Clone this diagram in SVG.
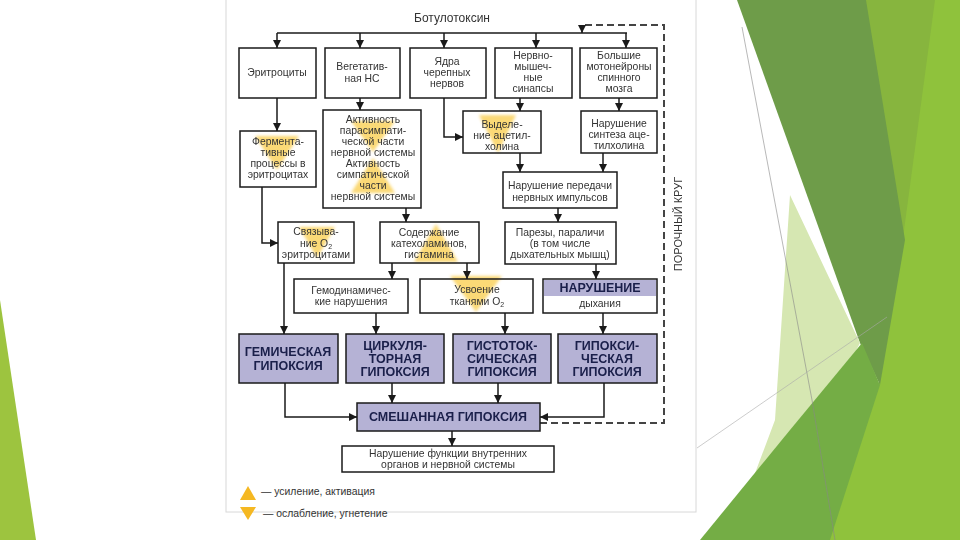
<svg xmlns="http://www.w3.org/2000/svg" width="960" height="540" viewBox="0 0 960 540">
<defs>
<style>
.box{fill:#fff;stroke:#1a1a1a;stroke-width:1.5}
.hyp{fill:#b5b2d5;stroke:#1a1a1a;stroke-width:1.5}
.t{font-family:"Liberation Sans",Arial,sans-serif;font-size:10.4px;fill:#333;text-anchor:middle}
.h{font-family:"Liberation Sans",Arial,sans-serif;font-size:12.5px;font-weight:bold;fill:#1a1f4a;text-anchor:middle}
.c{fill:none;stroke:#1a1a1a;stroke-width:1.5}
.d{fill:none;stroke:#444;stroke-width:2;stroke-dasharray:7,4}
.hl{fill:#f9c93a;opacity:0.7}
</style>
<marker id="a" viewBox="0 0 10 10" refX="10" refY="5" markerWidth="8" markerHeight="8" markerUnits="userSpaceOnUse" orient="auto"><path d="M0,0 L10,5 L0,10 z" fill="#1a1a1a"/></marker>
<filter id="bl"><feGaussianBlur stdDeviation="1.8"/></filter>
</defs>
<rect width="960" height="540" fill="#fff"/>
<g id="decor">
<polygon points="0,300 36,540 0,540" fill="#9dc43f"/>
<polygon points="870,0 960,0 960,540 815,540 880,380" fill="#8fc23c"/>
<polygon points="862,0 935,0 900,260 880,380" fill="#87b53e"/>
<polygon points="737,0 866,0 905,240 880,385 860,343" fill="#6e9c49"/>
<polygon points="790,195 860,343 820,420 745,500 775,420" fill="#d6e7b2"/>
<polygon points="862,343 880,385 830,540 700,540 790,430" fill="#74ad45"/>
<polyline points="742,27 812,400 835,540" fill="none" stroke="#888" stroke-width="0.6"/>
<line x1="697" y1="448" x2="887" y2="317" stroke="#aaa" stroke-width="0.6"/>
</g>
<rect x="226" y="-2" width="470" height="514" fill="#fff" stroke="#d8d8d8"/>
<g id="highlights" filter="url(#bl)">
<polygon class="hl" points="255,136 299,136 277,170"/>
<polygon class="hl" points="351,121 395,121 373,152"/>
<polygon class="hl" points="373,158 351,193 395,193"/>
<polygon class="hl" points="299,227 335,227 317,258"/>
<polygon class="hl" points="436,224 414,262 458,262"/>
<polygon class="hl" points="479,115 516,115 498,153"/>
<polygon class="hl" points="450,276 502,276 476,312"/>
</g>
<text class="t" x="452" y="22" style="font-size:12px">Ботулотоксин</text>
<g id="connectors">
<path class="c" d="M277,33 H627"/>
<path class="c" d="M277,33 V48" marker-end="url(#a)"/>
<path class="c" d="M360,33 V48" marker-end="url(#a)"/>
<path class="c" d="M444,33 V48" marker-end="url(#a)"/>
<path class="c" d="M536,33 V48" marker-end="url(#a)"/>
<path class="c" d="M626,33 V48" marker-end="url(#a)"/>
<path class="d" d="M540,423 H664 V25 H582 V28"/>
<path class="c" d="M582,27 V33" marker-end="url(#a)"/>
<path class="c" d="M277,98 V131" marker-end="url(#a)"/>
<path class="c" d="M360,98 V110" marker-end="url(#a)"/>
<path class="c" d="M444,98 V137 H463" marker-end="url(#a)"/>
<path class="c" d="M520,98 V111" marker-end="url(#a)"/>
<path class="c" d="M619,98 V111" marker-end="url(#a)"/>
<path class="c" d="M262,187 V243 H278" marker-end="url(#a)"/>
<path class="c" d="M406,208 V222" marker-end="url(#a)"/>
<path class="c" d="M520,153 V172" marker-end="url(#a)"/>
<path class="c" d="M603,153 V172" marker-end="url(#a)"/>
<path class="c" d="M558,208 V222" marker-end="url(#a)"/>
<path class="c" d="M392,263 V279" marker-end="url(#a)"/>
<path class="c" d="M467,263 V279" marker-end="url(#a)"/>
<path class="c" d="M596,264 V279" marker-end="url(#a)"/>
<path class="c" d="M284,263 V334" marker-end="url(#a)"/>
<path class="c" d="M376,313 V334" marker-end="url(#a)"/>
<path class="c" d="M505,313 V334" marker-end="url(#a)"/>
<path class="c" d="M603,313 V334" marker-end="url(#a)"/>
<path class="c" d="M285,383 V417 H357" marker-end="url(#a)"/>
<path class="c" d="M392,383 V403" marker-end="url(#a)"/>
<path class="c" d="M498,383 V403" marker-end="url(#a)"/>
<path class="c" d="M604,383 V417 H540" marker-end="url(#a)"/>
<path class="c" d="M452,431 V446" marker-end="url(#a)"/>
</g>
<g id="n-eritro"><rect class="box" x="239" y="48" width="77" height="50"/><text class="t" x="277" y="76">Эритроциты</text></g>
<g id="n-veget"><rect class="box" x="325" y="48" width="75" height="50"/><text class="t" x="362" y="70">Вегетатив-</text><text class="t" x="362" y="82">ная НС</text></g>
<g id="n-yadra"><rect class="box" x="410" y="48" width="76" height="50"/><text class="t" x="447" y="65">Ядра</text><text class="t" x="447" y="76">черепных</text><text class="t" x="447" y="87">нервов</text></g>
<g id="n-nervno"><rect class="box" x="495" y="48" width="77" height="50"/><text class="t" x="533" y="59">Нервно-</text><text class="t" x="533" y="70">мышеч-</text><text class="t" x="533" y="81">ные</text><text class="t" x="533" y="92">синапсы</text></g>
<g id="n-bolshie"><rect class="box" x="580" y="48" width="77" height="50"/><text class="t" x="619" y="59">Большие</text><text class="t" x="619" y="70">мотонейроны</text><text class="t" x="619" y="81">спинного</text><text class="t" x="619" y="92">мозга</text></g>
<g id="n-ferment"><rect class="box" x="240" y="131" width="76" height="56" fill-opacity="0"/><text class="t" x="278" y="145">Фермента-</text><text class="t" x="278" y="156">тивные</text><text class="t" x="278" y="167">процессы в</text><text class="t" x="278" y="178">эритроцитах</text></g>
<g id="n-aktiv"><rect class="box" x="323" y="110" width="98" height="98" fill-opacity="0"/><text class="t" x="373" y="123">Активность</text><text class="t" x="373" y="134">парасимпати-</text><text class="t" x="373" y="145">ческой части</text><text class="t" x="373" y="156">нервной системы</text><text class="t" x="373" y="167">Активность</text><text class="t" x="373" y="178">симпатической</text><text class="t" x="373" y="189">части</text><text class="t" x="373" y="200">нервной системы</text></g>
<g id="n-vydel"><rect class="box" x="463" y="111" width="78" height="42" fill-opacity="0"/><text class="t" x="502" y="128">Выделе-</text><text class="t" x="502" y="139">ние ацетил-</text><text class="t" x="502" y="150">холина</text></g>
<g id="n-sintez"><rect class="box" x="581" y="111" width="76" height="42"/><text class="t" x="619" y="127">Нарушение</text><text class="t" x="619" y="138">синтеза аце-</text><text class="t" x="619" y="149">тилхолина</text></g>
<g id="n-peredachi"><rect class="box" x="503" y="172" width="114" height="36"/><text class="t" x="560" y="189">Нарушение передачи</text><text class="t" x="560" y="201">нервных импульсов</text></g>
<g id="n-svyaz"><rect class="box" x="278" y="222" width="76" height="41" fill-opacity="0"/><text class="t" x="316" y="235">Связыва-</text><text class="t" x="316" y="247">ние O<tspan font-size="7" dy="2">2</tspan></text><text class="t" x="316" y="258">эритроцитами</text></g>
<g id="n-soderzh"><rect class="box" x="380" y="222" width="99" height="41" fill-opacity="0"/><text class="t" x="429" y="236">Содержание</text><text class="t" x="429" y="247">катехоламинов,</text><text class="t" x="429" y="258">гистамина</text></g>
<g id="n-parezy"><rect class="box" x="505" y="222" width="111" height="42"/><text class="t" x="560" y="236">Парезы, параличи</text><text class="t" x="560" y="247">(в том числе</text><text class="t" x="560" y="258">дыхательных мышц)</text></g>
<g id="n-gemodin"><rect class="box" x="294" y="279" width="114" height="34"/><text class="t" x="351" y="294">Гемодинамичес-</text><text class="t" x="351" y="305">кие нарушения</text></g>
<g id="n-usvoen"><rect class="box" x="420" y="279" width="113" height="34" fill-opacity="0"/><text class="t" x="477" y="293">Усвоение</text><text class="t" x="477" y="305">тканями O<tspan font-size="7" dy="2">2</tspan></text></g>
<g id="n-narush"><rect class="box" x="543" y="279" width="114" height="34"/><rect x="544" y="280" width="112" height="16" fill="#b5b2d5"/><text class="h" x="600" y="292">НАРУШЕНИЕ</text><text class="t" x="600" y="307">дыхания</text></g>
<g id="n-gemich"><rect class="hyp" x="239" y="334" width="99" height="49"/><text class="h" x="288" y="356">ГЕМИЧЕСКАЯ</text><text class="h" x="288" y="370">ГИПОКСИЯ</text></g>
<g id="n-cirk"><rect class="hyp" x="346" y="334" width="98" height="49"/><text class="h" x="395" y="350">ЦИРКУЛЯ-</text><text class="h" x="395" y="363">ТОРНАЯ</text><text class="h" x="395" y="376">ГИПОКСИЯ</text></g>
<g id="n-gisto"><rect class="hyp" x="453" y="334" width="98" height="49"/><text class="h" x="502" y="350">ГИСТОТОК-</text><text class="h" x="502" y="363">СИЧЕСКАЯ</text><text class="h" x="502" y="376">ГИПОКСИЯ</text></g>
<g id="n-gipoksi"><rect class="hyp" x="558" y="334" width="99" height="49"/><text class="h" x="607" y="350">ГИПОКСИ-</text><text class="h" x="607" y="363">ЧЕСКАЯ</text><text class="h" x="607" y="376">ГИПОКСИЯ</text></g>
<g id="n-smesh"><rect class="hyp" x="357" y="403" width="183" height="28"/><text class="h" x="448" y="421">СМЕШАННАЯ ГИПОКСИЯ</text></g>
<g id="n-funk"><rect class="box" x="342" y="446" width="212" height="26"/><text class="t" x="448" y="457">Нарушение функции внутренних</text><text class="t" x="448" y="468">органов и нервной системы</text></g>
<text class="t" x="682" y="224" transform="rotate(-90 682 224)" style="font-size:11px;fill:#333">ПОРОЧНЫЙ КРУГ</text>
<g id="legend">
<polygon points="248,486 240,500 256,500" fill="#f5b822"/>
<polygon points="240,507 256,507 248,520" fill="#f5b822"/>
<text class="t" x="261" y="495" style="text-anchor:start">— усиление, активация</text>
<text class="t" x="263" y="517" style="text-anchor:start">— ослабление, угнетение</text>
</g>
</svg>
